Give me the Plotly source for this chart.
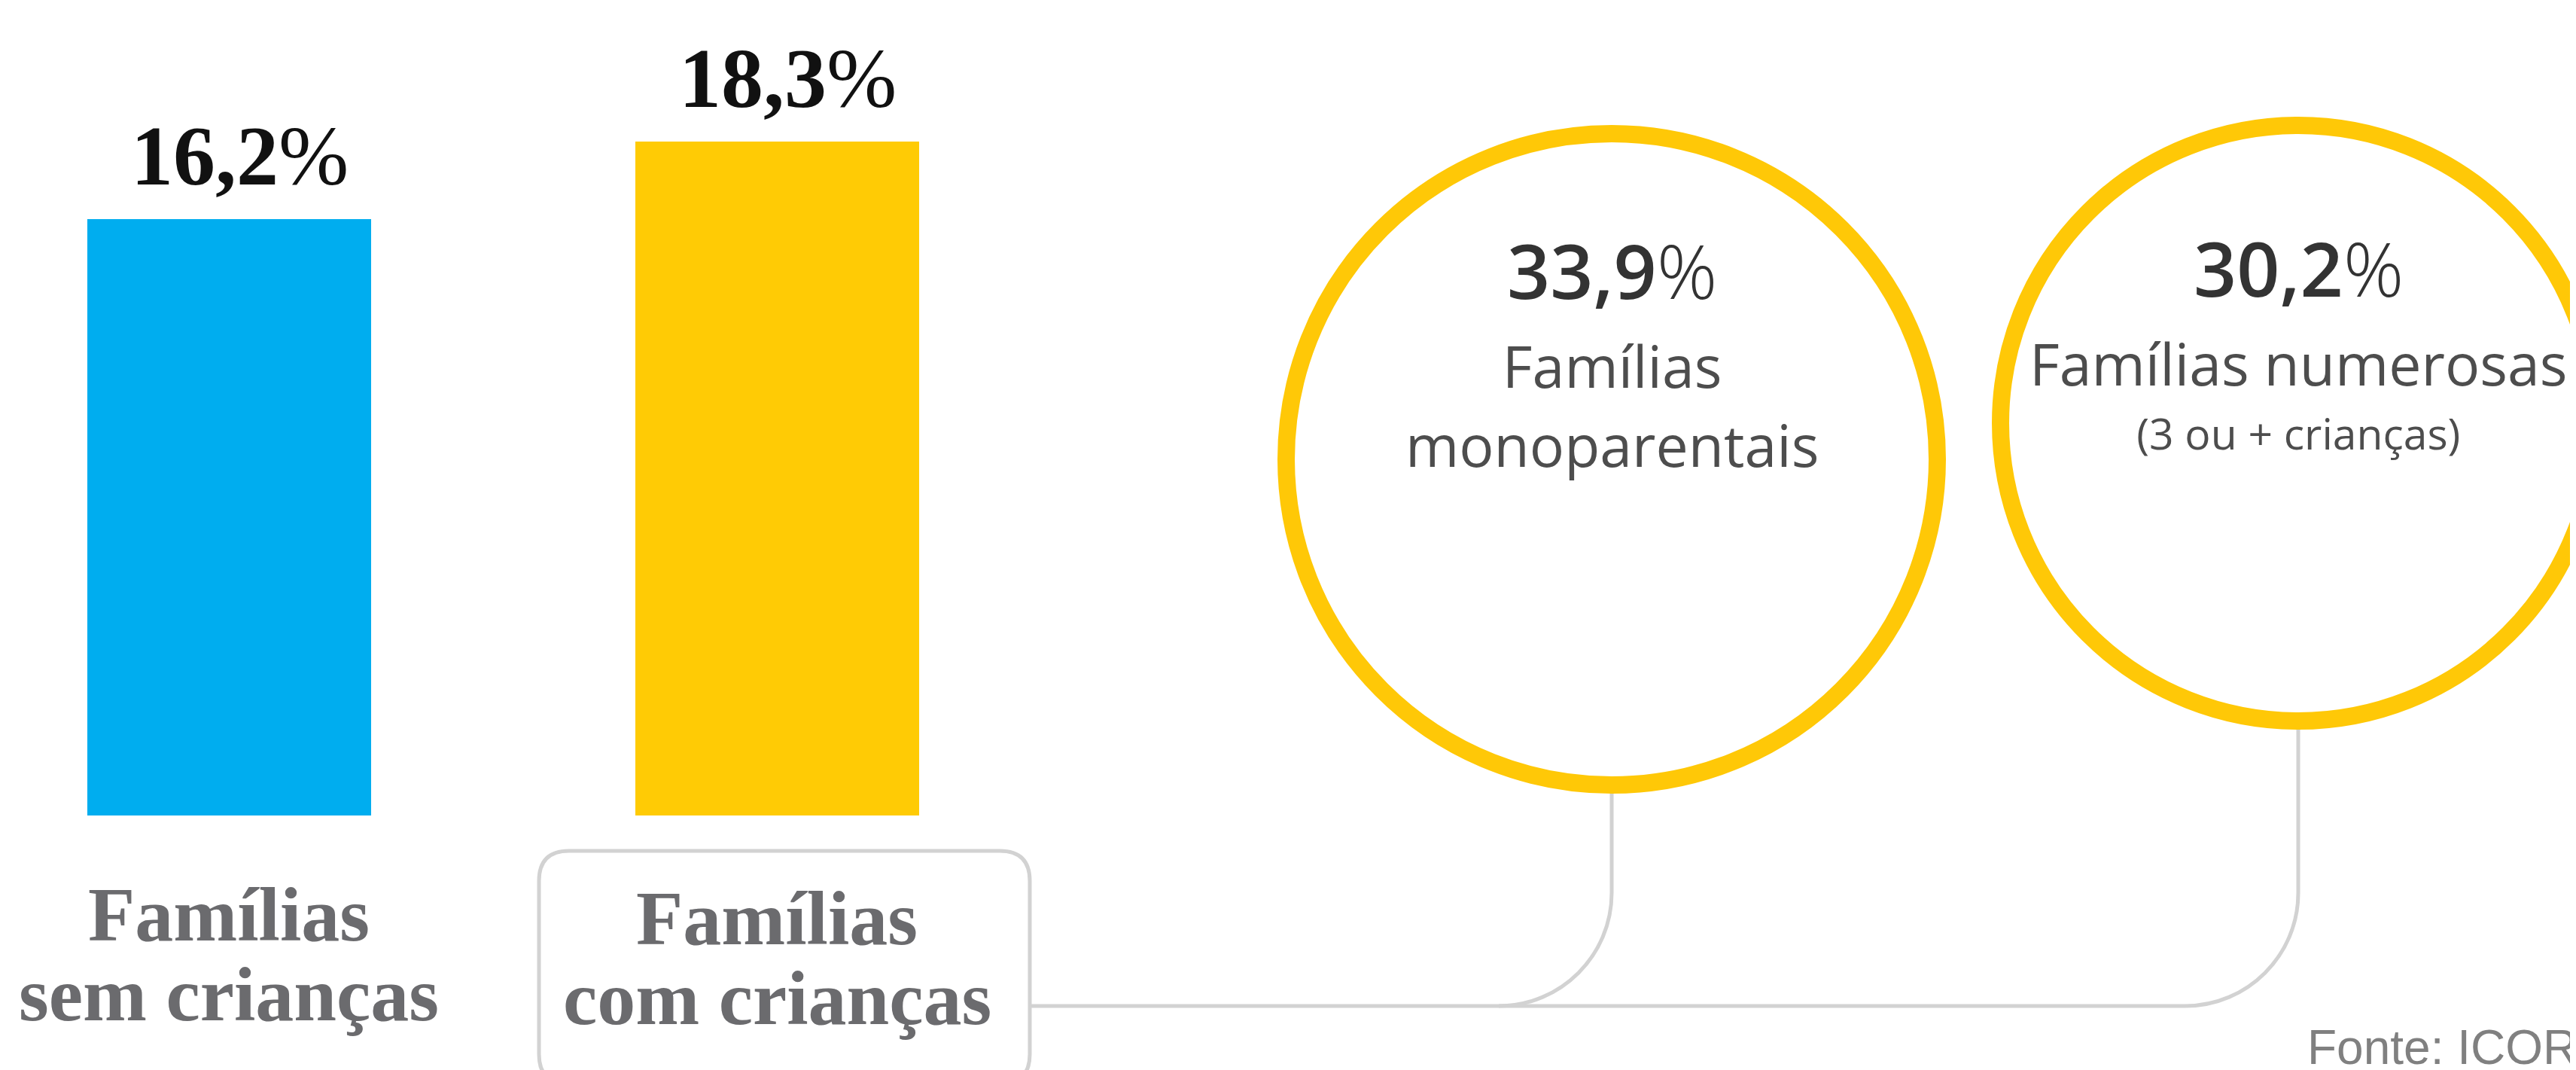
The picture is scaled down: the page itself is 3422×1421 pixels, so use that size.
import plotly.graph_objects as go

# ---------------- data ----------------
bar_categories = ["Famílias<br>sem crianças", "Famílias<br>com crianças"]
bar_values = [16.2, 18.3]
bar_colors = ["#00ADEF", "#FFCB05"]

circle_values = [33.9, 30.2]
circle_label_line1 = ["Famílias", "Famílias numerosas"]
circle_label_line2 = ["monoparentais", "(3 ou + crianças)"]

source_text = "Fonte: ICOR"

# ---------------- layout geometry (pixels) ----------------
W, H = 3422, 1421
bar_x = [296, 1024]
bar_width = 377
bar_base_px = 1075          # pixel row of value 0
bar_top_ref_px = 180        # pixel row of the largest bar top
ppu = (bar_base_px - bar_top_ref_px) / max(bar_values)
y_range = [-(H - bar_base_px) / ppu, bar_base_px / ppu]

circle_cx = [2133, 3045]
circle_cy = [602, 554]
# outer radius scale: r = r0 + k * value
r0, k = 105, 10.0
ring_w = 23
ring_color = "#FFC807"
line_color = "#D2D2D2"

fmt = lambda v: f"{v:.1f}".replace(".", ",")

fig = go.Figure()

fig.add_trace(go.Bar(
    x=bar_x, y=bar_values, width=bar_width,
    marker=dict(color=bar_colors, line=dict(width=0)),
    hoverinfo="skip", showlegend=False, yaxis="y",
))

annotations = []
# bar value labels
for x, v in zip(bar_x, bar_values):
    annotations.append(dict(
        x=x, y=v, xref="x", yref="y", yanchor="bottom", yshift=20, xshift=14,
        text=f"<b>{fmt(v)}</b>%", showarrow=False,
        font=dict(family="Liberation Serif", size=112, color="#111111"),
    ))
# category labels
lab_y = [(1206, 1312), (1211, 1317)]
for x, cat, (y1, y2) in zip(bar_x, bar_categories, lab_y):
    l1, l2 = cat.split("<br>")
    for txt, yy in ((l1, y1), (l2, y2)):
        annotations.append(dict(
            x=x, y=yy, xref="x", yref="y2", yanchor="middle",
            text=f"<b>{txt}</b>", showarrow=False,
            font=dict(family="Liberation Serif", size=102, color="#6B6B6E"),
        ))

shapes = []
# box around "Famílias com crianças"
bx0, bx1, by0, by1, br = 708, 1360, 1122, 1432, 40
shapes.append(dict(
    type="path", xref="x", yref="y2",
    path=(f"M {bx0+br},{by0} L {bx1-br},{by0} Q {bx1},{by0} {bx1},{by0+br} "
          f"L {bx1},{by1-br} Q {bx1},{by1} {bx1-br},{by1} L {bx0+br},{by1} "
          f"Q {bx0},{by1} {bx0},{by1-br} L {bx0},{by0+br} Q {bx0},{by0} {bx0+br},{by0} Z"),
    line=dict(color=line_color, width=5), layer="below",
))

hy = 1328
R = 150
radii = [r0 + k * v for v in circle_values]
# connectors
c1x = circle_cx[0]
c1bottom = circle_cy[0] + radii[0]
shapes.append(dict(
    type="path", xref="x", yref="y2",
    path=(f"M {c1x},{c1bottom-10} L {c1x},{hy-R} "
          f"C {c1x},{hy-R*0.45} {c1x-R*0.45},{hy} {c1x-R},{hy}"),
    line=dict(color=line_color, width=5), layer="below",
))
c2x = circle_cx[1]
c2bottom = circle_cy[1] + radii[1]
shapes.append(dict(
    type="path", xref="x", yref="y2",
    path=(f"M {bx1},{hy} L {c2x-R},{hy} "
          f"C {c2x-R*0.45},{hy} {c2x},{hy-R*0.45} {c2x},{hy-R} L {c2x},{c2bottom-10}"),
    line=dict(color=line_color, width=5), layer="below",
))

# circles
for cx, cy, ro in zip(circle_cx, circle_cy, radii):
    r = ro - ring_w / 2
    shapes.append(dict(
        type="circle", xref="x", yref="y2",
        x0=cx - r, x1=cx + r, y0=cy - r, y1=cy + r,
        line=dict(color=ring_color, width=ring_w), fillcolor="rgba(0,0,0,0)",
        layer="above",
    ))

# circle texts
num_y = [350, 347]
lbl_y = [530, 514]          # centre of the two-line label block
lbl_line_font = [81, 65]    # sets the line spacing (1.3 em)
l1_size = [77, 77]
l2_size = [77, 57]
for i, (cx, v) in enumerate(zip(circle_cx, circle_values)):
    annotations.append(dict(
        x=cx, y=num_y[i], xref="x", yref="y2", yanchor="middle",
        text=(f"<span style='font-weight:600'>{fmt(v)}</span>"
              f"<span style='font-weight:300'>%</span>"),
        showarrow=False,
        font=dict(family="Open Sans", size=100, color="#333333"),
    ))
    annotations.append(dict(
        x=cx, y=lbl_y[i], xref="x", yref="y2", yanchor="middle",
        text=(f"<span style='font-size:{l1_size[i]}px'>{circle_label_line1[i]}</span><br>"
              f"<span style='font-size:{l2_size[i]}px'>{circle_label_line2[i]}</span>"),
        showarrow=False, align="center",
        font=dict(family="Open Sans", size=lbl_line_font[i], color="#4D4D4D"),
    ))

# source
annotations.append(dict(
    x=3418, y=1421, xref="x", yref="y2", xanchor="right", yanchor="bottom",
    text=source_text, showarrow=False,
    font=dict(family="Liberation Sans", size=64, color="#808080"),
))

fig.update_layout(
    width=W, height=H, autosize=False,
    margin=dict(l=0, r=0, t=0, b=0, pad=0),
    paper_bgcolor="white", plot_bgcolor="white",
    xaxis=dict(range=[0, W], visible=False, fixedrange=True),
    yaxis=dict(range=y_range, visible=False, fixedrange=True),
    yaxis2=dict(range=[H, 0], visible=False, overlaying="y", fixedrange=True),
    shapes=shapes, annotations=annotations,
    bargap=0, showlegend=False,
)
fig.add_trace(go.Scatter(x=[None], y=[None], yaxis="y2", showlegend=False, hoverinfo="skip"))

fig.write_html("out.html", config={"displayModeBar": False})
